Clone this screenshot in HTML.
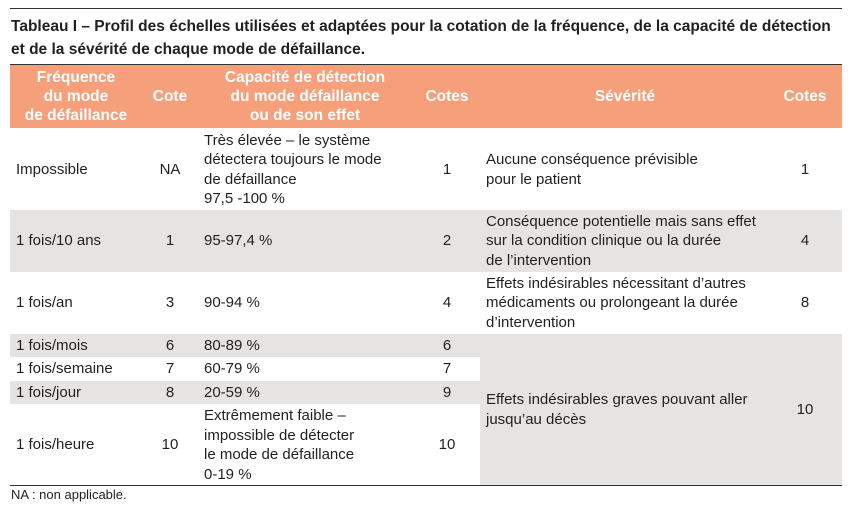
<!DOCTYPE html>
<html><head><meta charset="utf-8"><style>
body{margin:0;width:864px;height:512px;background:#fff;position:relative;font-family:"Liberation Sans",sans-serif;color:#231f20;overflow:hidden}
.a{position:absolute}
.t{font-weight:bold;font-size:15.5px;line-height:23px;left:11px;white-space:nowrap}
.h{background:#f6a07b;left:10px;width:832px;top:65px;height:63px}
.hc{position:absolute;color:#fff;font-weight:bold;font-size:15.5px;line-height:19px;text-align:center;display:flex;align-items:center;justify-content:center;top:65px;height:63px}
.g{background:#e5e4e2}
.c{position:absolute;font-size:15px;line-height:19.5px;display:flex;align-items:center;white-space:nowrap}
.ctr{justify-content:center;text-align:center}
</style></head><body>
<div class="a" style="left:10px;top:8px;width:832px;height:1px;background:#333"></div>
<div class="a t" style="top:15px">Tableau I – Profil des échelles utilisées et adaptées pour la cotation de la fréquence, de la capacité de détection</div>
<div class="a t" style="top:38px">et de la sévérité de chaque mode de défaillance.</div>
<div class="a" style="left:10px;top:64px;width:832px;height:1px;background:#333"></div>
<div class="a h"></div>
<div class="hc" style="left:10px;width:132px">Fréquence<br>du mode<br>de défaillance</div>
<div class="hc" style="left:142px;width:56px">Cote</div>
<div class="hc" style="left:198px;width:214px">Capacité de détection<br>du mode défaillance<br>ou de son effet</div>
<div class="hc" style="left:412px;width:70px">Cotes</div>
<div class="hc" style="left:482px;width:286px">Sévérité</div>
<div class="hc" style="left:768px;width:74px">Cotes</div>

<div class="a g" style="left:10px;top:210px;width:832px;height:62px"></div>
<div class="a g" style="left:10px;top:334px;width:470px;height:23px"></div>
<div class="a g" style="left:10px;top:381px;width:470px;height:23px"></div>
<div class="a g" style="left:480px;top:334px;width:362px;height:151px"></div>
<div class="a" style="left:10px;top:485px;width:832px;height:1px;background:#333"></div>

<div class="c" style="left:16px;top:130px;height:79px">Impossible</div>
<div class="c ctr" style="left:142px;width:56px;top:130px;height:79px">NA</div>
<div class="c" style="left:204px;top:130px;height:79px">Très élevée – le système<br>détectera toujours le mode<br>de défaillance<br>97,5 -100 %</div>
<div class="c ctr" style="left:412px;width:70px;top:130px;height:79px">1</div>
<div class="c" style="left:486px;top:130px;height:79px">Aucune conséquence prévisible<br>pour le patient</div>
<div class="c ctr" style="left:768px;width:74px;top:130px;height:79px">1</div>

<div class="c" style="left:16px;top:210px;height:62px">1 fois/10 ans</div>
<div class="c ctr" style="left:142px;width:56px;top:210px;height:62px">1</div>
<div class="c" style="left:204px;top:210px;height:62px">95-97,4 %</div>
<div class="c ctr" style="left:412px;width:70px;top:210px;height:62px">2</div>
<div class="c" style="left:486px;top:210px;height:62px">Conséquence potentielle mais sans effet<br>sur la condition clinique ou la durée<br>de l’intervention</div>
<div class="c ctr" style="left:768px;width:74px;top:210px;height:62px">4</div>

<div class="c" style="left:16px;top:272px;height:62px">1 fois/an</div>
<div class="c ctr" style="left:142px;width:56px;top:272px;height:62px">3</div>
<div class="c" style="left:204px;top:272px;height:62px">90-94 %</div>
<div class="c ctr" style="left:412px;width:70px;top:272px;height:62px">4</div>
<div class="c" style="left:486px;top:272px;height:62px">Effets indésirables nécessitant d’autres<br>médicaments ou prolongeant la durée<br>d’intervention</div>
<div class="c ctr" style="left:768px;width:74px;top:272px;height:62px">8</div>

<div class="c" style="left:16px;top:334px;height:23px">1 fois/mois</div>
<div class="c ctr" style="left:142px;width:56px;top:334px;height:23px">6</div>
<div class="c" style="left:204px;top:334px;height:23px">80-89 %</div>
<div class="c ctr" style="left:412px;width:70px;top:334px;height:23px">6</div>
<div class="c" style="left:16px;top:357px;height:24px">1 fois/semaine</div>
<div class="c ctr" style="left:142px;width:56px;top:357px;height:24px">7</div>
<div class="c" style="left:204px;top:357px;height:24px">60-79 %</div>
<div class="c ctr" style="left:412px;width:70px;top:357px;height:24px">7</div>
<div class="c" style="left:16px;top:381px;height:23px">1 fois/jour</div>
<div class="c ctr" style="left:142px;width:56px;top:381px;height:23px">8</div>
<div class="c" style="left:204px;top:381px;height:23px">20-59 %</div>
<div class="c ctr" style="left:412px;width:70px;top:381px;height:23px">9</div>

<div class="c" style="left:16px;top:405px;height:80px">1 fois/heure</div>
<div class="c ctr" style="left:142px;width:56px;top:405px;height:80px">10</div>
<div class="c" style="left:204px;top:405px;height:80px">Extrêmement faible –<br>impossible de détecter<br>le mode de défaillance<br>0-19 %</div>
<div class="c ctr" style="left:412px;width:70px;top:405px;height:80px">10</div>
<div class="c" style="left:486px;top:334px;height:151px">Effets indésirables graves pouvant aller<br>jusqu’au décès</div>
<div class="c ctr" style="left:768px;width:74px;top:334px;height:151px">10</div>
<div class="a" style="left:11px;top:487px;font-size:13px;line-height:16px">NA : non applicable.</div>
</body></html>
